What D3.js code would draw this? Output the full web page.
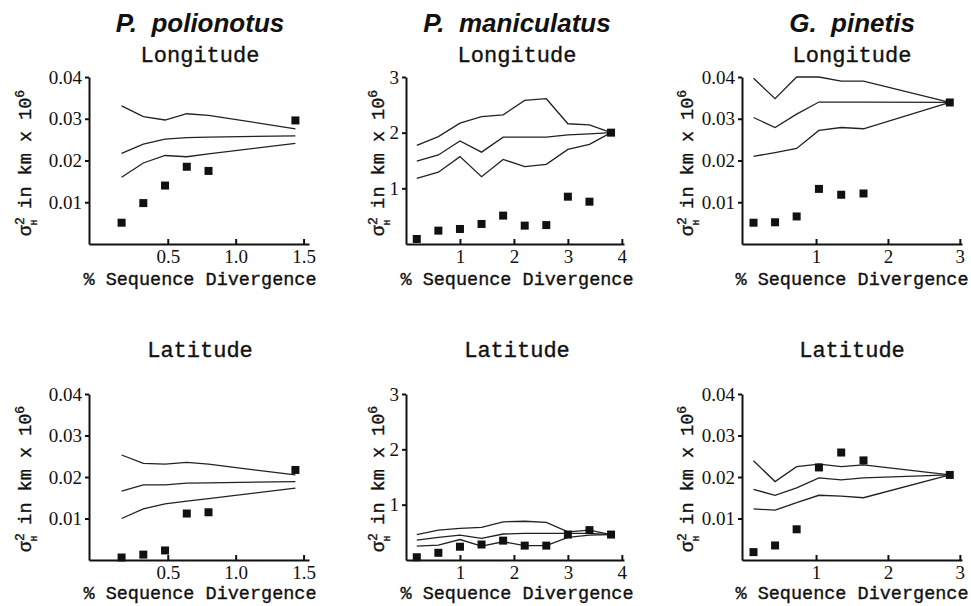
<!DOCTYPE html>
<meta charset="utf-8">
<style>
    body { margin: 0; background: #ffffff; }
    text { fill: #111111; }
    .species { font-family: "Liberation Sans", Arial, sans-serif; font-weight: bold; font-style: italic; font-size: 26px; }
    .sub { font-family: "Liberation Mono", monospace; font-size: 22px; stroke: #111111; stroke-width: 0.35; }
    .xlabel, .ylabel { font-family: "Liberation Mono", monospace; font-size: 18.5px; stroke: #111111; stroke-width: 0.35; }
    .axis text { font-family: "Liberation Serif", serif; font-size: 19px; fill: #111111; }
    .axis path, .axis line { stroke: #111111; stroke-width: 2; }
    .band { fill: none; stroke: #222222; stroke-width: 1.3; }
    .obs { fill: #111111; }
</style>
<body>
<div id="chart"></div>
<script src="https://d3js.org/d3.v7.min.js"></script>
<script>

// ---- data ----
var species = ["P.  polionotus", "P.  maniculatus", "G.  pinetis"];
var directions = ["Longitude", "Latitude"];

// P. polionotus
var polX = [0.16, 0.32, 0.48, 0.64, 0.80, 1.44];
var polLonObs   = [0.0051, 0.0098, 0.0140, 0.0185, 0.0175, 0.0296];
var polLonUpper = [0.0331, 0.0305, 0.0297, 0.0312, 0.0308, 0.0276];
var polLonMid   = [0.0217, 0.0239, 0.0251, 0.0255, 0.0256, 0.0259];
var polLonLower = [0.0160, 0.0194, 0.0212, 0.0209, 0.0216, 0.0241];
var polLatObs   = [0.0006, 0.0013, 0.0023, 0.0112, 0.0115, 0.0217];
var polLatUpper = [0.0253, 0.0233, 0.0231, 0.0235, 0.0231, 0.0205];
var polLatMid   = [0.0166, 0.0181, 0.0181, 0.0185, 0.0186, 0.0189];
var polLatLower = [0.0100, 0.0123, 0.0135, 0.0142, 0.0148, 0.0173];

// P. maniculatus
var manX = [0.2, 0.6, 1.0, 1.4, 1.8, 2.2, 2.6, 3.0, 3.4, 3.8];
var manLonObs   = [0.09, 0.24, 0.27, 0.36, 0.51, 0.33, 0.34, 0.85, 0.76, 2.00];
var manLonUpper = [1.77, 1.93, 2.17, 2.29, 2.32, 2.58, 2.61, 2.16, 2.14, 2.00];
var manLonMid   = [1.49, 1.60, 1.85, 1.65, 1.92, 1.92, 1.92, 1.96, 1.98, 2.00];
var manLonLower = [1.18, 1.29, 1.57, 1.21, 1.52, 1.39, 1.43, 1.70, 1.79, 2.00];
var manLatObs   = [0.05, 0.13, 0.24, 0.28, 0.35, 0.26, 0.26, 0.46, 0.54, 0.46];
var manLatUpper = [0.46, 0.54, 0.57, 0.59, 0.69, 0.70, 0.68, 0.51, 0.54, 0.46];
var manLatMid   = [0.36, 0.41, 0.45, 0.39, 0.47, 0.48, 0.48, 0.48, 0.48, 0.46];
var manLatLower = [0.25, 0.27, 0.37, 0.25, 0.33, 0.26, 0.26, 0.41, 0.45, 0.46];

// G. pinetis
var pinX = [0.13, 0.43, 0.73, 1.04, 1.35, 1.66, 2.86];
var pinLonObs   = [0.0051, 0.0052, 0.0066, 0.0132, 0.0118, 0.0121, 0.0339];
var pinLonUpper = [0.0397, 0.0348, 0.0400, 0.0400, 0.0390, 0.0390, 0.0339];
var pinLonMid   = [0.0303, 0.0279, 0.0311, 0.0340, 0.0340, 0.0340, 0.0339];
var pinLonLower = [0.0210, 0.0219, 0.0229, 0.0272, 0.0279, 0.0276, 0.0339];
var pinLatObs   = [0.0019, 0.0035, 0.0074, 0.0223, 0.0259, 0.0240, 0.0205];
var pinLatUpper = [0.0239, 0.0189, 0.0225, 0.0231, 0.0225, 0.0229, 0.0205];
var pinLatMid   = [0.0170, 0.0156, 0.0174, 0.0198, 0.0193, 0.0198, 0.0205];
var pinLatLower = [0.0123, 0.0120, 0.0138, 0.0156, 0.0154, 0.0150, 0.0205];

// tick labels
var smallYTicks = [0.01, 0.02, 0.03, 0.04];
var bigYTicks = [1, 2, 3];
var polXTicks = [0.5, 1.0, 1.5];
var manXTicks = [1, 2, 3, 4];
var pinXTicks = [1, 2, 3];

// ---- layout ----
var svg_dx = 971, svg_dy = 606;

var svg = d3.select("#chart")
            .append("svg")
            .attr("width", svg_dx)
            .attr("height", svg_dy);

// one entry per column
var columns = [
    {x: polX, xDomain: [-0.08, 1.54], xRange: [89, 309], xTicks: polXTicks, xFmt: d3.format(".1f"),
     yDomain: [0, 0.04], yTicks: smallYTicks, yFmt: d3.format(".2f"), center: 200, ylabX: 31,
     rows: [[polLonObs, polLonUpper, polLonMid, polLonLower], [polLatObs, polLatUpper, polLatMid, polLatLower]]},
    {x: manX, xDomain: [0, 4.04], xRange: [406, 624], xTicks: manXTicks, xFmt: d3.format("d"),
     yDomain: [0, 3], yTicks: bigYTicks, yFmt: d3.format("d"), center: 517, ylabX: 384,
     rows: [[manLonObs, manLonUpper, manLonMid, manLonLower], [manLatObs, manLatUpper, manLatMid, manLatLower]]},
    {x: pinX, xDomain: [-0.03, 3.03], xRange: [742, 962], xTicks: pinXTicks, xFmt: d3.format("d"),
     yDomain: [0, 0.04], yTicks: smallYTicks, yFmt: d3.format(".2f"), center: 852, ylabX: 693,
     rows: [[pinLonObs, pinLonUpper, pinLonMid, pinLonLower], [pinLatObs, pinLatUpper, pinLatMid, pinLatLower]]}
];

// one entry per row
var rowLayout = [
    {yRange: [244, 77], subY: 62, xlabY: 285, ylabY: 163},
    {yRange: [560, 394], subY: 357, xlabY: 599, ylabY: 479}
];

columns.forEach(function (col, ci) {

    svg.append("text")
       .attr("class", "species")
       .attr("x", col.center)
       .attr("y", 32)
       .attr("text-anchor", "middle")
       .style("white-space", "pre")
       .text(species[ci]);

    var x = d3.scaleLinear().domain(col.xDomain).range(col.xRange);

    col.rows.forEach(function (series, ri) {

        var lay = rowLayout[ri];
        var y = d3.scaleLinear().domain(col.yDomain).range(lay.yRange);
        var g = svg.append("g");

        g.append("text")
         .attr("class", "sub")
         .attr("x", col.center)
         .attr("y", lay.subY)
         .attr("text-anchor", "middle")
         .text(directions[ri]);

        g.append("g")
         .attr("class", "axis")
         .attr("transform", "translate(0," + lay.yRange[0] + ")")
         .call(d3.axisBottom(x)
                 .tickValues(col.xTicks)
                 .tickFormat(col.xFmt)
                 .tickSizeInner(-5)
                 .tickSizeOuter(0)
                 .tickPadding(6));

        g.append("g")
         .attr("class", "axis")
         .attr("transform", "translate(" + col.xRange[0] + ",0)")
         .call(d3.axisLeft(y)
                 .tickValues(col.yTicks)
                 .tickFormat(col.yFmt)
                 .tickSizeInner(4)
                 .tickSizeOuter(0)
                 .tickPadding(3));

        g.append("text")
         .attr("class", "xlabel")
         .attr("x", col.center)
         .attr("y", lay.xlabY)
         .attr("text-anchor", "middle")
         .text("% Sequence Divergence");

        // sigma^2_H in km x 10^6
        var ylab = g.append("text")
                    .attr("class", "ylabel")
                    .attr("text-anchor", "middle")
                    .attr("transform", "translate(" + col.ylabX + "," + lay.ylabY + ") rotate(-90)");
        ylab.append("tspan").text("σ");
        ylab.append("tspan").attr("dy", -7).style("font-size", "13px").text("2");
        ylab.append("tspan").attr("dx", -8).attr("dy", 13).style("font-size", "9px").text("H");
        ylab.append("tspan").attr("dy", -6).text(" in km x 10");
        ylab.append("tspan").attr("dy", -7).style("font-size", "13px").text("6");

        var line = d3.line()
                     .x(function (d, i) { return x(col.x[i]); })
                     .y(function (d) { return y(d); });

        g.selectAll("path.band")
         .data(series.slice(1))
         .enter()
         .append("path")
         .attr("class", "band")
         .attr("d", line);

        g.selectAll("rect.obs")
         .data(series[0])
         .enter()
         .append("rect")
         .attr("class", "obs")
         .attr("x", function (d, i) { return x(col.x[i]) - 4; })
         .attr("y", function (d) { return y(d) - 4; })
         .attr("width", 8)
         .attr("height", 8);
    });
});

</script>
</body>
